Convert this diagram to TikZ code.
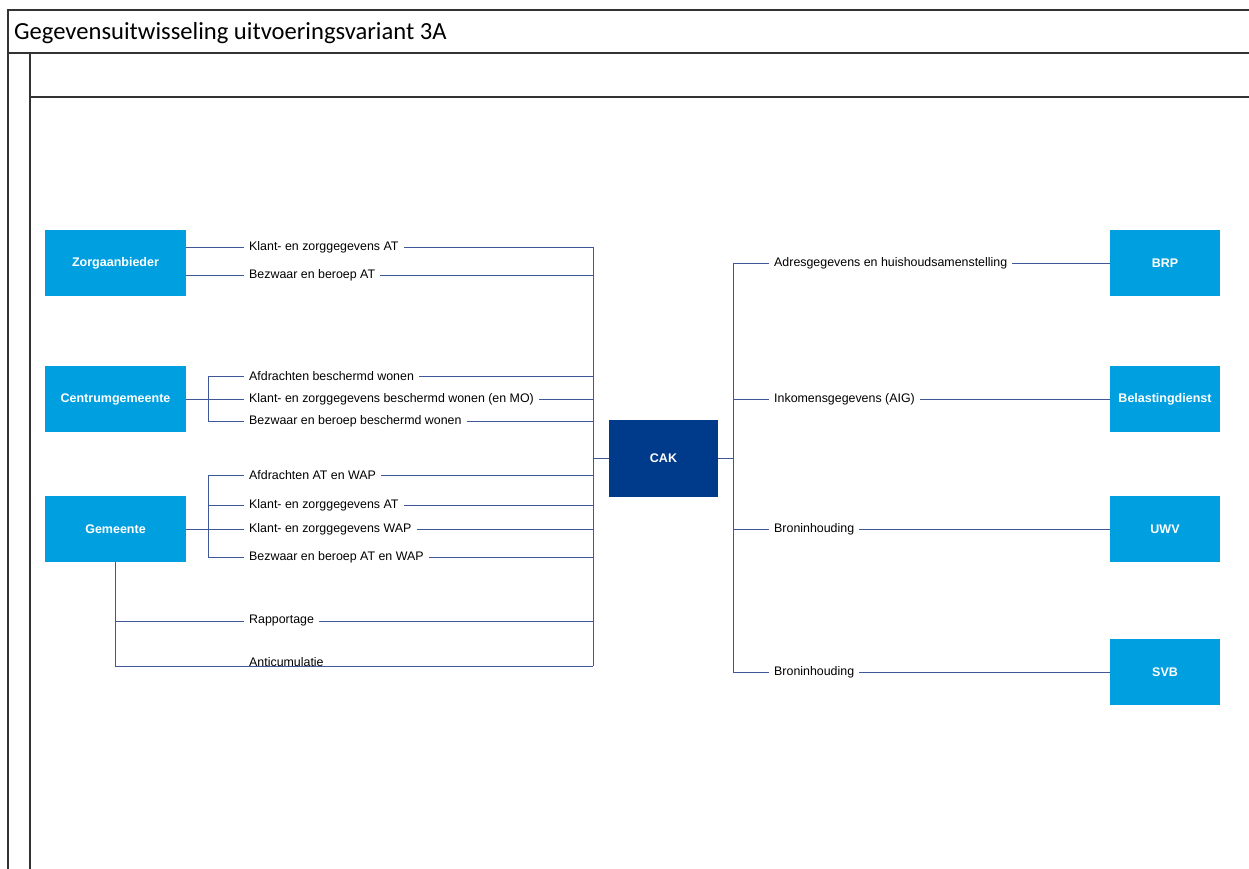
\documentclass[tikz,border=0pt]{standalone}
\usepackage{fontspec}
\setmainfont{Liberation Sans}
\newfontfamily\titlefont{Carlito}
\usepackage{tikz}
\usetikzlibrary{positioning}
\definecolor{boxblue}{RGB}{0,160,224}
\definecolor{cakblue}{RGB}{0,58,138}
\definecolor{linkblue}{RGB}{62,88,152}

\begin{document}
\begin{tikzpicture}[x=1pt,y=-1pt]

\tikzstyle{comp}=[fill=boxblue, text=white, font=\fontsize{12.5}{14}\selectfont\bfseries,
    minimum width=141pt, minimum height=66pt, inner sep=0pt]
\tikzstyle{ext}=[comp, minimum width=110pt]
\tikzstyle{lbl}=[font=\fontsize{12.4}{14}\selectfont, inner xsep=5pt, inner ysep=0pt, anchor=west]
\tikzstyle{link}=[draw=linkblue, line width=1pt]
\tikzstyle{frame}=[draw=black!80, line width=1.3pt]

\useasboundingbox (0,0) rectangle (1249,869);

% frame
\draw[frame] (8,869) -- (8,10) -- (1249,10);
\draw[frame] (8,53) -- (1249,53);
\draw[frame] (30,53) -- (30,869);
\draw[frame] (30,97) -- (1249,97);
\node[anchor=base west, inner sep=0pt, font=\titlefont\fontsize{24.6}{28}\selectfont] (title) at (14,40)
    {Gegevensuitwisseling uitvoeringsvariant 3A};

\node[comp] (za) at (115.5,263) {Zorgaanbieder};
\node[comp,below of=za,node distance=136pt] (cg) {Centrumgemeente};
\node[comp,below of=cg,node distance=130pt] (gm) {Gemeente};

\node[comp,fill=cakblue,minimum width=109pt,minimum height=77pt] (cak) at (663.5,458.5) {CAK};

\node[ext] (brp) at (1165,263) {BRP};
\node[ext,below of=brp,node distance=136pt] (bd) {Belastingdienst};
\node[ext,below of=bd,node distance=130pt] (uwv) {UWV};
\node[ext,below of=uwv,node distance=143pt] (svb) {SVB};

% labels left
\node[lbl] (z1) at (244,247) {Klant- en zorggegevens AT};
\node[lbl] (z2) at (244,275) {Bezwaar en beroep AT};
\node[lbl] (c1) at (244,376) {Afdrachten beschermd wonen};
\node[lbl] (c2) at (244,399) {Klant- en zorggegevens beschermd wonen (en MO)};
\node[lbl] (c3) at (244,421) {Bezwaar en beroep beschermd wonen};
\node[lbl] (g1) at (244,475) {Afdrachten AT en WAP};
\node[lbl] (g2) at (244,505) {Klant- en zorggegevens AT};
\node[lbl] (g3) at (244,529) {Klant- en zorggegevens WAP};
\node[lbl] (g4) at (244,557) {Bezwaar en beroep AT en WAP};
\node[lbl] (g5) at (244,621) {Rapportage};
\node[lbl,anchor=base west,inner xsep=0pt] (g6) at (249,666) {Anticumulatie};

% labels right
\node[lbl] (r1) at (769,263) {Adresgegevens en huishoudsamenstelling};
\node[lbl] (r2) at (769,399) {Inkomensgegevens (AIG)};
\node[lbl] (r3) at (769,529) {Broninhouding};
\node[lbl] (r4) at (769,672) {Broninhouding};

\coordinate (lt) at (593,247);
\coordinate (lb) at (593,666);
\coordinate (rt) at (733,263);
\coordinate (rb) at (733,672);
\coordinate (cj) at (208,399);
\coordinate (gj) at (208,529);

% buses
\draw[link] (lt) -- (lb);
\draw[link] (lt |- cak) -- (cak.west);
\draw[link] (cak.east) -- (rt |- cak);
\draw[link] (rt) -- (rb);

% Zorgaanbieder
\foreach \l in {z1,z2} {
    \draw[link] (za.east |- \l) -- (\l.west);
}

% Centrumgemeente
\draw[link] (cg.east) -- (c2.west);
\draw[link] (c1.west) -| (cj |- c3) -- (c3.west);

% Gemeente
\draw[link] (gm.east) -- (g3.west);
\draw[link] (g1.west) -| (gj |- g4) -- (g4.west);
\draw[link] (gj |- g2) -- (g2.west);
\draw[link] (gm.south) |- (g5.west);
\draw[link] (gm.south) |- (lb);

\foreach \l in {z1,z2,c1,c2,c3,g1,g2,g3,g4,g5} {
    \draw[link] (\l.east) -- (lt |- \l);
}

% right side
\foreach \l/\b in {r1/brp,r2/bd,r3/uwv,r4/svb} {
    \draw[link] (rt |- \l) -- (\l.west);
    \draw[link] (\l.east) -- (\b);
}

\end{tikzpicture}
\end{document}
